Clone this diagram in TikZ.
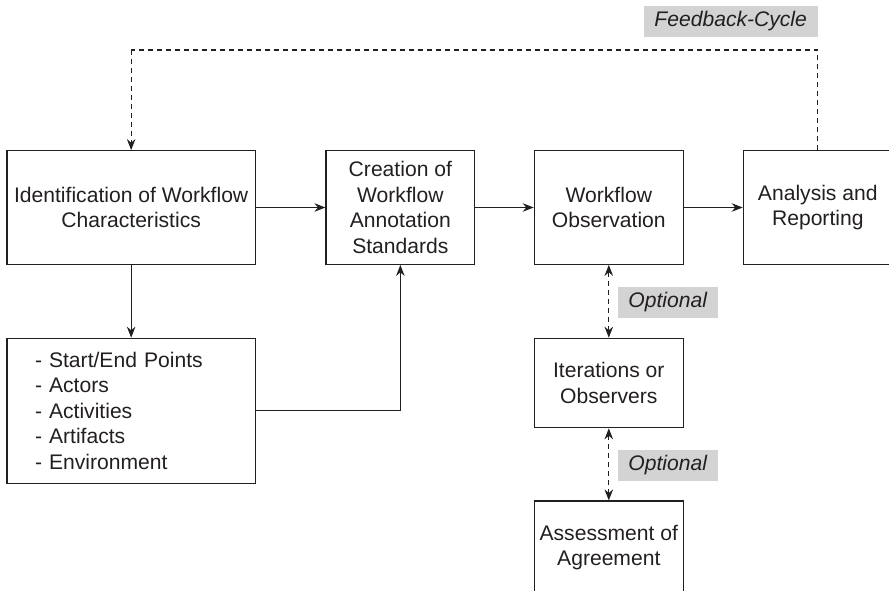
\documentclass[tikz,border=0pt]{standalone}
\usepackage{fontspec}
\setmainfont{Liberation Sans}
\usetikzlibrary{arrows.meta}
\definecolor{ink}{RGB}{35,31,32}
\definecolor{labgray}{RGB}{211,211,211}
\tikzset{
  box/.style={draw=ink, line width=1.2pt, inner sep=0pt, align=center, text=ink,
    font=\fontsize{21.1pt}{25.5pt}\selectfont, minimum width=149pt, minimum height=113.6pt},
  lab/.style={fill=labgray, inner sep=0pt, text=ink, minimum height=31pt,
    font=\fontsize{21.1pt}{25.5pt}\selectfont\itshape},
  conn/.style={draw=ink, line width=1.2pt, -{Stealth[length=11pt,width=8.5pt]}},
  dconn/.style={draw=ink, line width=1.2pt, dash pattern=on 5pt off 4pt},
  ddconn/.style={draw=ink, line width=1.2pt, dash pattern=on 5pt off 4pt,
    {Stealth[length=11pt,width=8.5pt]}-{Stealth[length=11pt,width=8.5pt]}}
}
\begin{document}
\begin{tikzpicture}[x=1pt,y=-1pt]
\useasboundingbox (0,0) rectangle (889,590);
% row 1
\node[box, minimum width=248.3pt] (ident) at (131.15,207.5) {Identification of Workflow\\Characteristics};
\node[box, minimum width=148.7pt] (create) at (400.35,207.5) {Creation of\\Workflow\\Annotation\\Standards};
\node[box] (obs) at (608.8,207.5) {Workflow\\Observation};
\node[box] (anal) at (817.8,207.5) {Analysis and\\Reporting};
% list
\node[box, minimum width=248.3pt, minimum height=144.8pt, text width=192.3pt, inner xsep=28pt, align=left] (list) at (131.15,410.7)
  {- Start/End Points\\- Actors\\- Activities\\- Artifacts\\- Environment};
% right column
\node[box, minimum height=89.4pt] (iter) at (608.8,383) {Iterations or\\Observers};
\node[box, minimum height=93pt] (assess) at (608.8,547.5) {Assessment of\\Agreement};
% labels
\node[lab, minimum width=100pt] (opt1) at (667.7,302.2) {Optional};
\node[lab, minimum width=100pt] (opt2) at (667.7,465) {Optional};
\node[lab, minimum width=174pt] (fb) at (730.7,21) {Feedback-Cycle};
% connectors
\draw[conn] (ident.east) -- (create.west);
\draw[conn] (create.east) -- (obs.west);
\draw[conn] (obs.east) -- (anal.west);
\draw[conn] (ident.south) -- (list.north);
\coordinate (lc) at (create.south |- list.east);
\draw[conn] (list.east) -- (lc) -- (create.south);
\draw[ddconn] (obs.south) -- (iter.north);
\draw[ddconn] (iter.south) -- (assess.north);
\coordinate (fbr) at (anal.north |- 0,50);
\coordinate (fbl) at (ident.north |- 0,50);
\draw[dconn] (anal.north) -- (fbr) -- (fbl);
\draw[dconn, -{Stealth[length=11pt,width=8.5pt]}] (fbl) -- (ident.north);
\end{tikzpicture}
\end{document}
